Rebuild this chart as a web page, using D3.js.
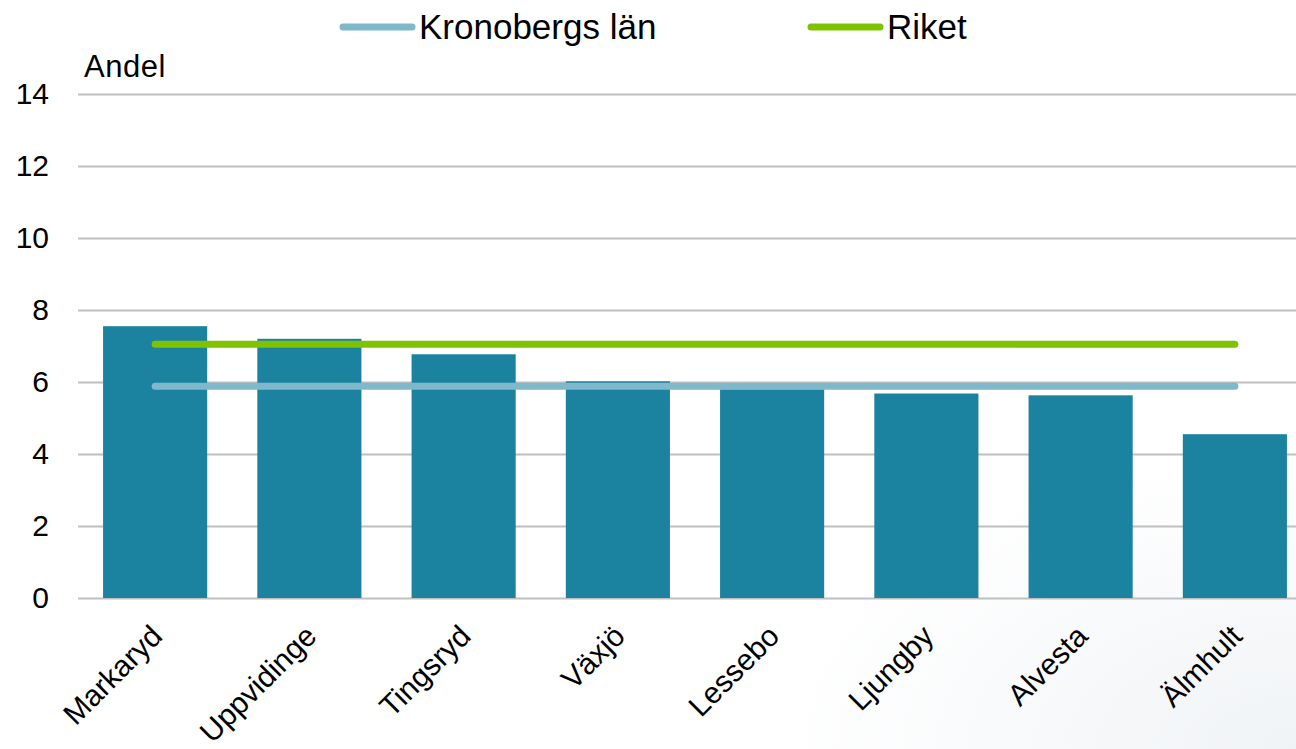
<!DOCTYPE html>
<html>
<head>
<meta charset="utf-8">
<script src="https://cdn.jsdelivr.net/npm/d3@7"></script>
<style>
  body { margin: 0; background: #fff; }
  svg { display: block; font-family: "Liberation Sans", Arial, sans-serif; }
</style>
</head>
<body>
<div id="chart"></div>
<script>
// data
let kommuner = ["Markaryd", "Uppvidinge", "Tingsryd", "Växjö", "Lessebo", "Ljungby", "Alvesta", "Älmhult"];
let andel = [7.55, 7.2, 6.77, 6.02, 5.8, 5.68, 5.63, 4.55];
let lanValue = 5.88;
let riketValue = 7.05;
let yTicks = [0, 2, 4, 6, 8, 10, 12, 14];

let width = 1296, height = 749;
let margin = {top: 94, right: -16, bottom: 151, left: 78};

let color_bar = "#1b82a0";
let color_lan = "#7fb8cb";
let color_riket = "#7fc200";

let svg = d3.select("#chart")
            .append("svg")
            .attr("width", width)
            .attr("height", height);

// faint background shading like the original slide
let defs = svg.append("defs");
let grad = defs.append("radialGradient")
    .attr("id", "bg")
    .attr("cx", "100%").attr("cy", "100%").attr("r", "40%");
grad.append("stop").attr("offset", "0%").attr("stop-color", "#f0f3f6");
grad.append("stop").attr("offset", "100%").attr("stop-color", "#ffffff");
svg.append("rect").attr("width", width).attr("height", height).attr("fill", "url(#bg)");

let x = d3.scaleBand()
          .domain(kommuner)
          .range([margin.left, width - margin.right])
          .paddingInner(0.325)
          .paddingOuter(0.1625);

let y = d3.scaleLinear()
          .domain([0, 14])
          .range([height - margin.bottom, margin.top]);

// gridlines + y labels
svg.append("g")
    .attr("transform", "translate(" + margin.left + ",0)")
    .call(d3.axisLeft(y).tickValues(yTicks).tickSize(-(width - margin.left)).tickPadding(29))
    .call(g => g.select(".domain").remove())
    .call(g => g.selectAll(".tick line").attr("stroke", "#bfbfbf").attr("stroke-width", 2))
    .call(g => g.selectAll(".tick text")
                .attr("fill", "#000")
                .style("font-size", "30px")
                .style("font-family", "Liberation Sans, Arial, sans-serif"));

// bars
svg.append("g")
    .selectAll("rect")
    .data(andel)
    .enter()
    .append("rect")
    .attr("x", (d, i) => x(kommuner[i]))
    .attr("y", d => y(d))
    .attr("width", x.bandwidth())
    .attr("height", d => y(0) - y(d))
    .attr("fill", color_bar);

// reference lines
let x0 = x(kommuner[0]) + x.bandwidth() / 2;
let x1 = x(kommuner[kommuner.length - 1]) + x.bandwidth() / 2;
[[riketValue, color_riket], [lanValue, color_lan]].forEach(r => {
  svg.append("line")
      .attr("x1", x0).attr("x2", x1)
      .attr("y1", y(r[0])).attr("y2", y(r[0]))
      .attr("stroke", r[1])
      .attr("stroke-width", 7)
      .attr("stroke-linecap", "round");
});

// x labels
svg.append("g")
    .selectAll("text")
    .data(kommuner)
    .enter()
    .append("text")
    .attr("transform", d => "translate(" + (x(d) + x.bandwidth() / 2 + 9) + "," + (y(0) + 40) + ") rotate(-45)")
    .attr("text-anchor", "end")
    .style("font-size", "30px")
    .text(d => d);

// axis title
svg.append("text")
    .attr("x", 84)
    .attr("y", 77)
    .style("font-size", "31px")
    .style("letter-spacing", "0.5px")
    .text("Andel");

// legend
let legend = svg.selectAll(".legend")
    .data([["Kronobergs län", color_lan, 343], ["Riket", color_riket, 811]])
    .enter().append("g")
    .attr("class", "legend")
    .attr("transform", d => "translate(" + d[2] + ",27)");

legend.append("line")
    .attr("x1", 0).attr("x2", 69)
    .attr("stroke", d => d[1])
    .attr("stroke-width", 7)
    .attr("stroke-linecap", "round");

legend.append("text")
    .attr("x", 76)
    .attr("y", 12)
    .style("font-size", "35px")
    .text(d => d[0]);
</script>
</body>
</html>
